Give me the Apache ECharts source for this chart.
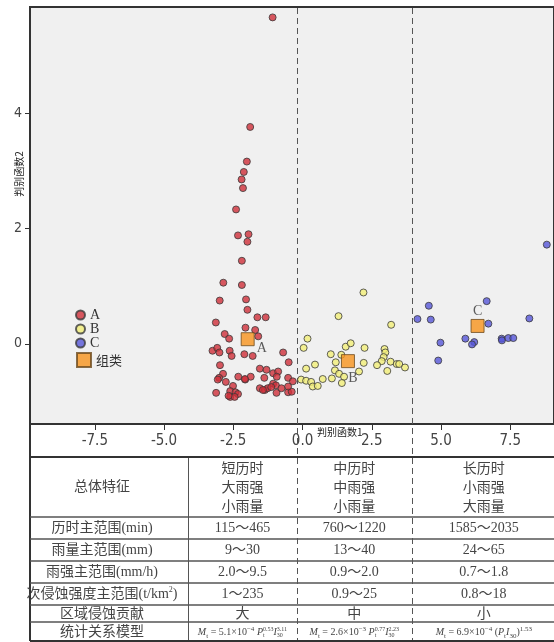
<!DOCTYPE html>
<html>
<head>
<meta charset="utf-8">
<script src="https://cdn.jsdelivr.net/npm/echarts@6/dist/echarts.min.js"></script>
<style>
    html, body { margin: 0; padding: 0; background: #fff; overflow: hidden; }
    #wrap { position: relative; width: 554px; height: 642px; overflow: hidden; }
    #chart { position: absolute; left: 0; top: 0; width: 554px; height: 642px; }
    .cell { position: absolute; text-align: center; color: #444; white-space: nowrap;
        font-family: "Liberation Serif", "Noto Sans CJK SC", serif; font-size: 14px; }
    .cell sup { font-size: 8px; line-height: 0; }
    .f { font-size: 10px; font-family: "Liberation Serif", serif; color: #444; }
    .f sub, .f sup { font-size: 7px; line-height: 0; }
    .ss { display: inline-flex; flex-direction: column; vertical-align: middle; font-size: 6px; line-height: 6px; text-align: left; }
</style>
</head>
<body>
<div id="wrap">
    <div id="chart"></div>
    <div id="table"></div>
</div>
<script>
    // 判别函数1 / 判别函数2 得分
    const groupA = [
        [-1.08, 5.66], [-1.89, 3.76], [-2.01, 3.16], [-2.12, 2.98], [-2.20, 2.85], [-2.15, 2.70],
        [-2.40, 2.33], [-2.33, 1.88], [-1.95, 1.90], [-1.99, 1.77], [-2.19, 1.44], [-2.86, 1.06],
        [-2.19, 1.02], [-2.99, 0.75], [-2.04, 0.77], [-1.99, 0.59], [-1.63, 0.46], [-1.33, 0.46],
        [-3.13, 0.37], [-2.06, 0.28], [-1.71, 0.24], [-1.60, 0.13], [-2.81, 0.17], [-2.65, 0.09],
        [-3.25, -0.12], [-3.08, -0.07], [-3.00, -0.15], [-2.63, -0.12], [-2.56, -0.21], [-2.10, -0.18],
        [-1.80, -0.21], [-0.70, -0.15], [-0.50, -0.32], [-2.98, -0.37], [-1.54, -0.43], [-1.30, -0.45],
        [-1.06, -0.51], [-0.88, -0.48], [-0.93, -0.57], [-2.87, -0.52], [-3.01, -0.59], [-3.06, -0.62],
        [-2.77, -0.66], [-2.32, -0.57], [-2.07, -0.62], [-1.87, -0.57], [-1.38, -0.59], [-0.52, -0.59],
        [-0.35, -0.65], [-2.51, -0.73], [-2.61, -0.82], [-2.42, -0.84], [-2.33, -0.87], [-2.61, -0.92],
        [-2.45, -0.92], [-3.12, -0.85], [-1.54, -0.77], [-1.36, -0.80], [-1.26, -0.77], [-1.06, -0.69],
        [-0.96, -0.72], [-0.94, -0.85], [-0.52, -0.84], [-0.39, -0.83], [-1.13, -0.75], [-1.43, -0.80],
        [-2.67, -0.90], [-0.52, -0.74], [-0.76, -0.77], [-2.08, -0.61]
    ]
    const groupB = [
        [2.20, 0.89], [1.30, 0.48], [3.20, 0.33], [0.18, 0.09], [0.04, -0.07], [1.56, -0.05],
        [1.74, 0.01], [2.24, -0.07], [2.96, -0.09], [2.99, -0.15], [2.93, -0.23], [2.86, -0.30],
        [2.69, -0.37], [1.02, -0.18], [1.40, -0.19], [1.20, -0.32], [2.21, -0.33], [3.18, -0.31],
        [3.40, -0.35], [3.49, -0.35], [3.70, -0.41], [3.06, -0.47], [0.45, -0.36], [0.13, -0.43],
        [2.04, -0.48], [1.17, -0.46], [1.32, -0.52], [1.50, -0.57], [1.42, -0.68], [1.06, -0.60],
        [0.73, -0.61], [-0.05, -0.62], [0.13, -0.64], [0.31, -0.66], [0.37, -0.74], [0.55, -0.73]
    ]
    const groupC = [
        [8.82, 1.72], [6.65, 0.74], [4.56, 0.66], [4.15, 0.43], [4.63, 0.42], [8.19, 0.44],
        [6.71, 0.35], [5.88, 0.09], [6.20, 0.03], [6.12, -0.01], [4.98, 0.02], [7.19, 0.09],
        [7.20, 0.06], [7.43, 0.10], [7.61, 0.10], [4.90, -0.29]
    ]
    // 组质心
    const centroidNames = ['A', 'B', 'C']
    const centroids = [[-1.98, 0.08], [1.64, -0.30], [6.32, 0.31]]
    const xTicks = [-7.5, -5.0, -2.5, 0.0, 2.5, 5.0, 7.5]
    const yTicks = [0, 2, 4]
    // 分区虚线位置（判别函数1）
    const splitX = [-0.20, 3.94]

    // 表格
    const headLabel = '总体特征'
    const typeLines = [['短历时', '大雨强', '小雨量'], ['中历时', '中雨强', '小雨量'], ['长历时', '小雨强', '大雨量']]
    const rowNames = ['历时主范围(min)', '雨量主范围(mm)', '雨强主范围(mm/h)', '次侵蚀强度主范围(t/km<sup>2</sup>)', '区域侵蚀贡献', '统计关系模型']
    const colShort = ['115～465', '9～30', '2.0～9.5', '1～235', '大']
    const colMid = ['760～1220', '13～40', '0.9～2.0', '0.9～25', '中']
    const colLong = ['1585～2035', '24～65', '0.7～1.8', '0.8～18', '小']

    const ss = (sub, sup) => '<span class="ss"><span>' + sup + '</span><span>' + sub + '</span></span>'
    const models = [
        '<i>M</i><sub>t</sub> = 5.1×10<sup>−4</sup> <i>P</i>' + ss('t', '0.53') + '<i>I</i>' + ss('30', '3.11'),
        '<i>M</i><sub>t</sub> = 2.6×10<sup>−3</sup> <i>P</i>' + ss('t', '0.77') + '<i>I</i>' + ss('30', '2.23'),
        '<i>M</i><sub>t</sub> = 6.9×10<sup>−4</sup> (<i>P</i><sub>t</sub><i>I</i><sub>30</sub>)<sup>1.53</sup>'
    ]

    const rowLines = [457, 517, 539, 561, 583, 605, 622, 641]
    const plotBottom = 424

    const chart = echarts.init(document.getElementById('chart'))
    const dot = (c) => ({ color: c, borderColor: '#3a3a3a', borderWidth: 1 })
    const labelPos = [
        { position: 'right', distance: 2, offset: [0, 9] },
        { position: 'bottom', distance: 3, offset: [5, 0] },
        { position: 'top', distance: 1, offset: [0, 0] }
    ]
    const tickFont = '"Liberation Sans Narrow", "DejaVu Sans Condensed", sans-serif'

    const option = {
        animation: false,
        grid: {
            left: 30, top: 7, right: -2, bottom: 642 - plotBottom,
            show: true, backgroundColor: '#f0f0f0', borderColor: '#333', borderWidth: 2
        },
        xAxis: {
            type: 'value', min: -9.84, max: 9.08,
            axisLine: { show: false, onZero: false },
            splitLine: { show: false },
            axisTick: { show: true, customValues: xTicks, length: 6, lineStyle: { color: '#333' } },
            axisLabel: {
                customValues: xTicks, formatter: v => v.toFixed(1), margin: 10,
                fontFamily: tickFont, fontSize: 15, color: '#444'
            }
        },
        yAxis: {
            type: 'value', min: -1.39, max: 5.84,
            axisLine: { show: false, onZero: false },
            splitLine: { show: false },
            axisTick: { show: true, customValues: yTicks, length: 5, lineStyle: { color: '#333' } },
            axisLabel: {
                customValues: yTicks, margin: 8,
                fontFamily: tickFont, fontSize: 14, color: '#444'
            }
        },
        legend: [
            {
                data: ['A', 'B', 'C'], orient: 'vertical', left: 70, top: 303,
                itemWidth: 9, itemHeight: 9, itemGap: 0,
                textStyle: { fontFamily: '"Liberation Serif", serif', fontSize: 14, color: '#333' }
            },
            {
                data: ['组类'], left: 71, top: 347, itemWidth: 14, itemHeight: 14,
                textStyle: { fontFamily: '"Noto Sans CJK SC", sans-serif', fontSize: 13, color: '#333' }
            }
        ],
        series: [
            { name: 'A', type: 'scatter', symbolSize: 7, data: groupA, itemStyle: dot('#d0303a') },
            { name: 'B', type: 'scatter', symbolSize: 7, data: groupB, itemStyle: dot('#f2ef78') },
            { name: 'C', type: 'scatter', symbolSize: 7, data: groupC, itemStyle: dot('#5656d8') },
            {
                name: '组类', type: 'scatter', symbol: 'rect', symbolSize: 13, z: 5,
                itemStyle: { color: '#f7941d', borderColor: '#6b4a1e', borderWidth: 1 },
                data: centroids.map((c, i) => ({
                    value: c,
                    label: Object.assign({
                        show: true, formatter: centroidNames[i],
                        fontFamily: '"Liberation Serif", serif', fontSize: 14, color: '#333'
                    }, labelPos[i])
                }))
            }
        ]
    }
    chart.setOption(option)

    // 分区虚线与表格框线
    const xd = splitX.map(v => chart.convertToPixel({ xAxisIndex: 0 }, v))
    const line = (x1, y1, x2, y2, w, color, dash) => ({
        type: 'line', z: 1, silent: true,
        shape: { x1: x1, y1: y1, x2: x2, y2: y2 },
        style: { stroke: color, lineWidth: w, lineDash: dash || null }
    })
    const elements = []
    xd.forEach(x => elements.push(line(Math.round(x) + 0.5, 8, Math.round(x) + 0.5, 641, 1, '#555', [6, 4])))
    elements.push(line(30, plotBottom, 30, 641, 2, '#333'))
    elements.push(line(188.5, rowLines[0], 188.5, 641, 1, '#555'))
    rowLines.forEach((y, i) => {
        const edge = i === 0 || i === rowLines.length - 1
        elements.push(line(30, y, 556, y, edge ? 2 : 1.5, edge ? '#333' : '#555'))
    })
    elements.push({
        type: 'text', z: 3, left: 317, top: 427,
        style: { text: '判别函数1', font: '10px "Noto Sans CJK SC", sans-serif', fill: '#222' }
    })
    elements.push({
        type: 'text', z: 3, x: 19, y: 174, rotation: Math.PI / 2,
        style: { text: '判别函数2', font: '10px "Noto Sans CJK SC", sans-serif', fill: '#222', align: 'center', verticalAlign: 'middle' }
    })
    chart.setOption({ graphic: { elements: elements } })

    // 表格文字
    const table = document.getElementById('table')
    const colCenters = [102, (188 + xd[0]) / 2, (xd[0] + xd[1]) / 2, (xd[1] + 556) / 2]
    const addCell = (html, cx, top, lh, cls) => {
        const d = document.createElement('div')
        d.className = 'cell' + (cls ? ' ' + cls : '')
        d.style.left = (cx - 100) + 'px'
        d.style.width = '200px'
        d.style.top = top + 'px'
        d.style.lineHeight = lh + 'px'
        d.innerHTML = html
        table.appendChild(d)
    }
    const headCy = (rowLines[0] + rowLines[1]) / 2
    addCell(headLabel, colCenters[0], headCy - 10, 20)
    typeLines.forEach((t, i) => addCell(t.join('<br>'), colCenters[i + 1], headCy - 28.5, 19))
    const cols = [colShort, colMid, colLong]
    rowNames.forEach((name, r) => {
        const cy = (rowLines[r + 1] + rowLines[r + 2]) / 2
        addCell(name, colCenters[0], cy - 9, 18)
        cols.forEach((c, k) => {
            if (r < c.length) addCell(c[r], colCenters[k + 1], cy - 9, 18)
            else addCell(models[k], colCenters[k + 1], cy - 9, 18, 'f')
        })
    })
</script>
</body>
</html>
